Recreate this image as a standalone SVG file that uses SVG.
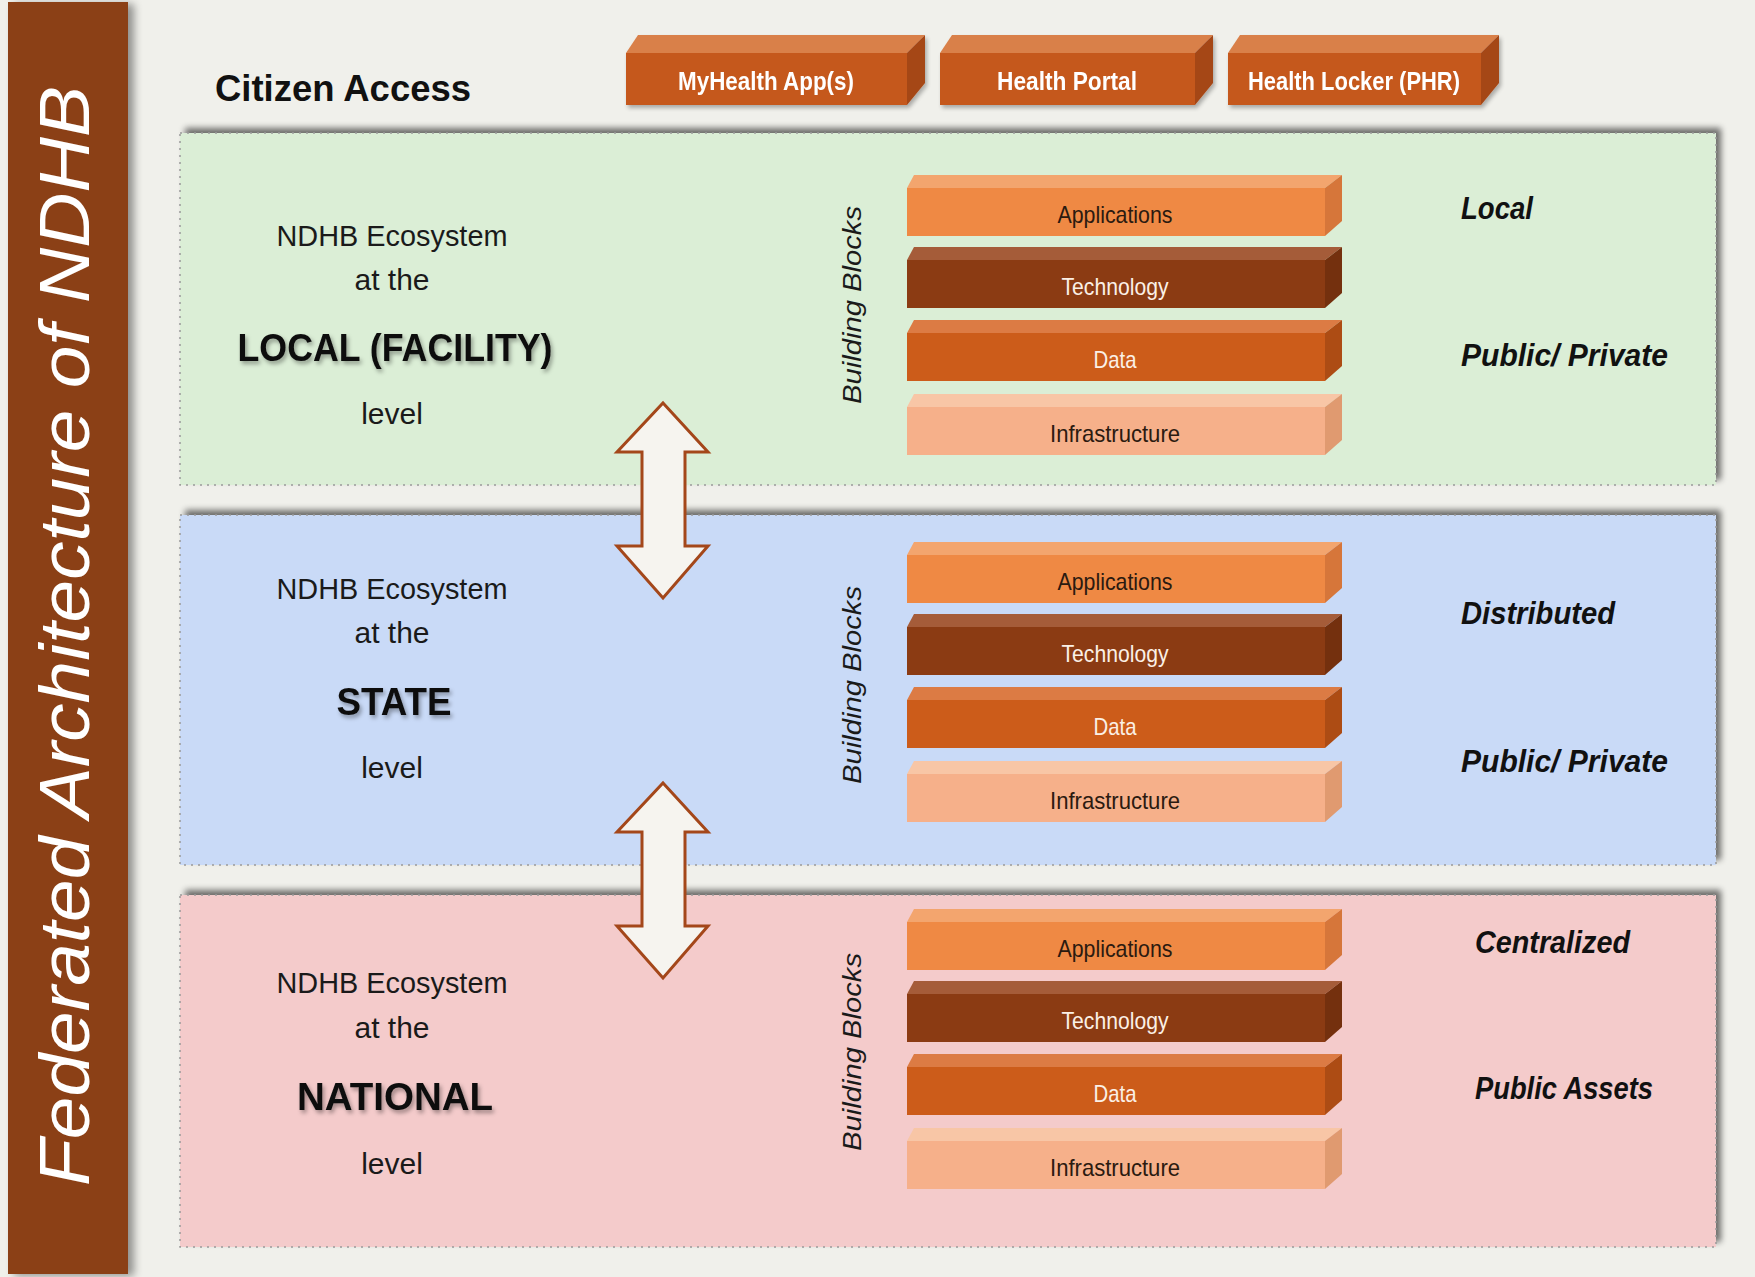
<svg xmlns="http://www.w3.org/2000/svg" width="1755" height="1277" viewBox="0 0 1755 1277">
<defs>
  <filter id="panelShadow" x="-5%" y="-10%" width="110%" height="120%">
    <feGaussianBlur in="SourceAlpha" stdDeviation="3" result="b"/>
    <feOffset in="b" dx="5" dy="-5" result="o"/>
    <feComponentTransfer in="o" result="s"><feFuncA type="linear" slope="0.55"/></feComponentTransfer>
    <feMerge><feMergeNode in="s"/><feMergeNode in="SourceGraphic"/></feMerge>
  </filter>
  <filter id="barShadow" x="-10%" y="-2%" width="130%" height="104%">
    <feGaussianBlur in="SourceAlpha" stdDeviation="4" result="b"/>
    <feOffset in="b" dx="6" dy="2" result="o"/>
    <feComponentTransfer in="o" result="s"><feFuncA type="linear" slope="0.4"/></feComponentTransfer>
    <feMerge><feMergeNode in="s"/><feMergeNode in="SourceGraphic"/></feMerge>
  </filter>
  <filter id="boxShadow" x="-5%" y="-20%" width="110%" height="150%">
    <feGaussianBlur in="SourceAlpha" stdDeviation="2" result="b"/>
    <feOffset in="b" dx="2" dy="3" result="o"/>
    <feComponentTransfer in="o" result="s"><feFuncA type="linear" slope="0.3"/></feComponentTransfer>
    <feMerge><feMergeNode in="s"/><feMergeNode in="SourceGraphic"/></feMerge>
  </filter>
  <filter id="txtShadow" x="-10%" y="-30%" width="120%" height="160%">
    <feDropShadow dx="2" dy="3" stdDeviation="2" flood-color="#000" flood-opacity="0.35"/>
  </filter>
  <style>
    .bg { fill: #f0f0eb; }
    .panel { stroke: #9a9a9a; stroke-width: 1.5; stroke-dasharray: 2 5; }
    .green { fill: #dbeed6; }
    .blue { fill: #c9daf7; }
    .pink { fill: #f4cbcb; }
    .lvl { font-family: "Liberation Sans", Arial, sans-serif; fill: #1a1a1a; text-anchor: middle; font-size: 30px; }
    .lvlB { font-family: "Liberation Sans", Arial, sans-serif; fill: #111; text-anchor: middle; font-size: 39px; font-weight: bold; }
    .side { font-family: "Liberation Sans", Arial, sans-serif; fill: #111; font-size: 31px; font-weight: bold; font-style: italic; }
    .bb { font-family: "Liberation Sans", Arial, sans-serif; fill: #1a1a1a; font-size: 26px; font-style: italic; text-anchor: middle; }
    .blk { font-family: "Liberation Sans", Arial, sans-serif; font-size: 24px; text-anchor: middle; }
    .topTxt { font-family: "Liberation Sans", Arial, sans-serif; font-size: 25px; font-weight: bold; fill: #ffffff; text-anchor: middle; }
    .arrow { fill: #f6f4ef; stroke: #a4471a; stroke-width: 3; stroke-linejoin: miter; }
    .tf { fill: #d98049; } .ff { fill: #c5581d; } .sf { fill: #a54614; }
    .appT { fill: #f3a56e; } .appF { fill: #ef8944; } .appS { fill: #d6763a; }
    .tecT { fill: #a55c39; } .tecF { fill: #8b3b13; } .tecS { fill: #74300e; }
    .datT { fill: #dc7b44; } .datF { fill: #cc5c1a; } .datS { fill: #ad4c14; }
    .infT { fill: #f8c6a6; } .infF { fill: #f6b08a; } .infS { fill: #e09a70; }
    .dark { fill: #2b1a10; } .light { fill: #fbf0e6; }
  </style>
</defs>

<rect class="bg" x="0" y="0" width="1755" height="1277"/>

<!-- Title bar -->
<g id="title-bar">
  <rect x="8" y="2" width="120" height="1272" fill="#8b3f12" filter="url(#barShadow)"/>
  <text transform="translate(89,636) rotate(-90)" font-family="Liberation Sans, Arial, sans-serif" font-size="71" font-style="italic" fill="#ffffff" text-anchor="middle" textLength="1100" lengthAdjust="spacingAndGlyphs">Federated Architecture of NDHB</text>
</g>

<!-- Citizen access -->
<g id="citizen-access">
  <text x="215" y="101" font-family="Liberation Sans, Arial, sans-serif" font-size="37" font-weight="bold" fill="#111" textLength="256" lengthAdjust="spacingAndGlyphs">Citizen Access</text>
</g>

<g id="myhealth-app" filter="url(#boxShadow)">
  <polygon class="tf" points="626,53 638,35 925,35 907,53"/>
  <polygon class="sf" points="907,53 925,35 925,83 907,105"/>
  <rect class="ff" x="626" y="53" width="281" height="52"/>
  <text class="topTxt" x="766" y="90" textLength="176" lengthAdjust="spacingAndGlyphs">MyHealth App(s)</text>
</g>
<g id="health-portal" filter="url(#boxShadow)">
  <polygon class="tf" points="940,53 952,35 1213,35 1195,53"/>
  <polygon class="sf" points="1195,53 1213,35 1213,83 1195,105"/>
  <rect class="ff" x="940" y="53" width="255" height="52"/>
  <text class="topTxt" x="1067" y="90" textLength="140" lengthAdjust="spacingAndGlyphs">Health Portal</text>
</g>
<g id="health-locker" filter="url(#boxShadow)">
  <polygon class="tf" points="1228,53 1240,35 1499,35 1481,53"/>
  <polygon class="sf" points="1481,53 1499,35 1499,83 1481,105"/>
  <rect class="ff" x="1228" y="53" width="253" height="52"/>
  <text class="topTxt" x="1354" y="90" textLength="212" lengthAdjust="spacingAndGlyphs">Health Locker (PHR)</text>
</g>

<!-- LOCAL panel -->
<g id="local-panel">
  <rect class="green" x="180" y="133" width="1536" height="352" filter="url(#panelShadow)"/>
  <rect class="panel" x="180" y="133" width="1536" height="352" fill="none"/>
  <text class="lvl" x="392" y="246" textLength="231" lengthAdjust="spacingAndGlyphs">NDHB Ecosystem</text>
  <text class="lvl" x="392" y="290">at the</text>
  <text class="lvlB" x="395" y="361" textLength="315" lengthAdjust="spacingAndGlyphs" filter="url(#txtShadow)">LOCAL (FACILITY)</text>
  <text class="lvl" x="392" y="424">level</text>
  <text class="bb" transform="translate(861,305) rotate(-90)" textLength="198" lengthAdjust="spacingAndGlyphs">Building Blocks</text>
  <text class="side" x="1461" y="219" textLength="72" lengthAdjust="spacingAndGlyphs">Local</text>
  <text class="side" x="1461" y="366" textLength="207" lengthAdjust="spacingAndGlyphs">Public/ Private</text>
</g>

<!-- STATE panel -->
<g id="state-panel">
  <rect class="blue" x="180" y="515" width="1536" height="350" filter="url(#panelShadow)"/>
  <rect class="panel" x="180" y="515" width="1536" height="350" fill="none"/>
  <text class="lvl" x="392" y="599" textLength="231" lengthAdjust="spacingAndGlyphs">NDHB Ecosystem</text>
  <text class="lvl" x="392" y="643">at the</text>
  <text class="lvlB" x="394" y="715" textLength="115" lengthAdjust="spacingAndGlyphs" filter="url(#txtShadow)">STATE</text>
  <text class="lvl" x="392" y="778">level</text>
  <text class="bb" transform="translate(861,685) rotate(-90)" textLength="198" lengthAdjust="spacingAndGlyphs">Building Blocks</text>
  <text class="side" x="1461" y="624" textLength="154" lengthAdjust="spacingAndGlyphs">Distributed</text>
  <text class="side" x="1461" y="772" textLength="207" lengthAdjust="spacingAndGlyphs">Public/ Private</text>
</g>

<!-- NATIONAL panel -->
<g id="national-panel">
  <rect class="pink" x="180" y="895" width="1536" height="352" filter="url(#panelShadow)"/>
  <rect class="panel" x="180" y="895" width="1536" height="352" fill="none"/>
  <text class="lvl" x="392" y="993" textLength="231" lengthAdjust="spacingAndGlyphs">NDHB Ecosystem</text>
  <text class="lvl" x="392" y="1038">at the</text>
  <text class="lvlB" x="395" y="1110" textLength="196" lengthAdjust="spacingAndGlyphs" filter="url(#txtShadow)">NATIONAL</text>
  <text class="lvl" x="392" y="1174">level</text>
  <text class="bb" transform="translate(861,1052) rotate(-90)" textLength="198" lengthAdjust="spacingAndGlyphs">Building Blocks</text>
  <text class="side" x="1475" y="953" textLength="155" lengthAdjust="spacingAndGlyphs">Centralized</text>
  <text class="side" x="1475" y="1099" textLength="178" lengthAdjust="spacingAndGlyphs">Public Assets</text>
</g>

<!-- Building block stacks -->
<g id="local-applications">
  <polygon class="appT" points="907,188 914,175 1342,175 1325,188"/>
  <polygon class="appS" points="1325,188 1342,175 1342,221 1325,236"/>
  <rect class="appF" x="907" y="188" width="418" height="48"/>
  <text class="blk dark" x="1115" y="223" textLength="115" lengthAdjust="spacingAndGlyphs">Applications</text>
</g>
<g id="local-technology">
  <polygon class="tecT" points="907,260 914,247 1342,247 1325,260"/>
  <polygon class="tecS" points="1325,260 1342,247 1342,293 1325,308"/>
  <rect class="tecF" x="907" y="260" width="418" height="48"/>
  <text class="blk light" x="1115" y="295" textLength="107" lengthAdjust="spacingAndGlyphs">Technology</text>
</g>
<g id="local-data">
  <polygon class="datT" points="907,333 914,320 1342,320 1325,333"/>
  <polygon class="datS" points="1325,333 1342,320 1342,366 1325,381"/>
  <rect class="datF" x="907" y="333" width="418" height="48"/>
  <text class="blk light" x="1115" y="368" textLength="43" lengthAdjust="spacingAndGlyphs">Data</text>
</g>
<g id="local-infrastructure">
  <polygon class="infT" points="907,407 914,394 1342,394 1325,407"/>
  <polygon class="infS" points="1325,407 1342,394 1342,440 1325,455"/>
  <rect class="infF" x="907" y="407" width="418" height="48"/>
  <text class="blk dark" x="1115" y="442" textLength="130" lengthAdjust="spacingAndGlyphs">Infrastructure</text>
</g>

<g id="state-applications">
  <polygon class="appT" points="907,555 914,542 1342,542 1325,555"/>
  <polygon class="appS" points="1325,555 1342,542 1342,588 1325,603"/>
  <rect class="appF" x="907" y="555" width="418" height="48"/>
  <text class="blk dark" x="1115" y="590" textLength="115" lengthAdjust="spacingAndGlyphs">Applications</text>
</g>
<g id="state-technology">
  <polygon class="tecT" points="907,627 914,614 1342,614 1325,627"/>
  <polygon class="tecS" points="1325,627 1342,614 1342,660 1325,675"/>
  <rect class="tecF" x="907" y="627" width="418" height="48"/>
  <text class="blk light" x="1115" y="662" textLength="107" lengthAdjust="spacingAndGlyphs">Technology</text>
</g>
<g id="state-data">
  <polygon class="datT" points="907,700 914,687 1342,687 1325,700"/>
  <polygon class="datS" points="1325,700 1342,687 1342,733 1325,748"/>
  <rect class="datF" x="907" y="700" width="418" height="48"/>
  <text class="blk light" x="1115" y="735" textLength="43" lengthAdjust="spacingAndGlyphs">Data</text>
</g>
<g id="state-infrastructure">
  <polygon class="infT" points="907,774 914,761 1342,761 1325,774"/>
  <polygon class="infS" points="1325,774 1342,761 1342,807 1325,822"/>
  <rect class="infF" x="907" y="774" width="418" height="48"/>
  <text class="blk dark" x="1115" y="809" textLength="130" lengthAdjust="spacingAndGlyphs">Infrastructure</text>
</g>

<g id="national-applications">
  <polygon class="appT" points="907,922 914,909 1342,909 1325,922"/>
  <polygon class="appS" points="1325,922 1342,909 1342,955 1325,970"/>
  <rect class="appF" x="907" y="922" width="418" height="48"/>
  <text class="blk dark" x="1115" y="957" textLength="115" lengthAdjust="spacingAndGlyphs">Applications</text>
</g>
<g id="national-technology">
  <polygon class="tecT" points="907,994 914,981 1342,981 1325,994"/>
  <polygon class="tecS" points="1325,994 1342,981 1342,1027 1325,1042"/>
  <rect class="tecF" x="907" y="994" width="418" height="48"/>
  <text class="blk light" x="1115" y="1029" textLength="107" lengthAdjust="spacingAndGlyphs">Technology</text>
</g>
<g id="national-data">
  <polygon class="datT" points="907,1067 914,1054 1342,1054 1325,1067"/>
  <polygon class="datS" points="1325,1067 1342,1054 1342,1100 1325,1115"/>
  <rect class="datF" x="907" y="1067" width="418" height="48"/>
  <text class="blk light" x="1115" y="1102" textLength="43" lengthAdjust="spacingAndGlyphs">Data</text>
</g>
<g id="national-infrastructure">
  <polygon class="infT" points="907,1141 914,1128 1342,1128 1325,1141"/>
  <polygon class="infS" points="1325,1141 1342,1128 1342,1174 1325,1189"/>
  <rect class="infF" x="907" y="1141" width="418" height="48"/>
  <text class="blk dark" x="1115" y="1176" textLength="130" lengthAdjust="spacingAndGlyphs">Infrastructure</text>
</g>

<!-- Connectors: double-headed arrows -->
<g id="connectors">
  <path class="arrow" d="M663,403 L708,452 L685,452 L685,546 L708,546 L663,598 L617,546 L642,546 L642,452 L617,452 Z"/>
  <path class="arrow" d="M663,783 L708,832 L685,832 L685,926 L708,926 L663,978 L617,926 L642,926 L642,832 L617,832 Z"/>
</g>
</svg>
